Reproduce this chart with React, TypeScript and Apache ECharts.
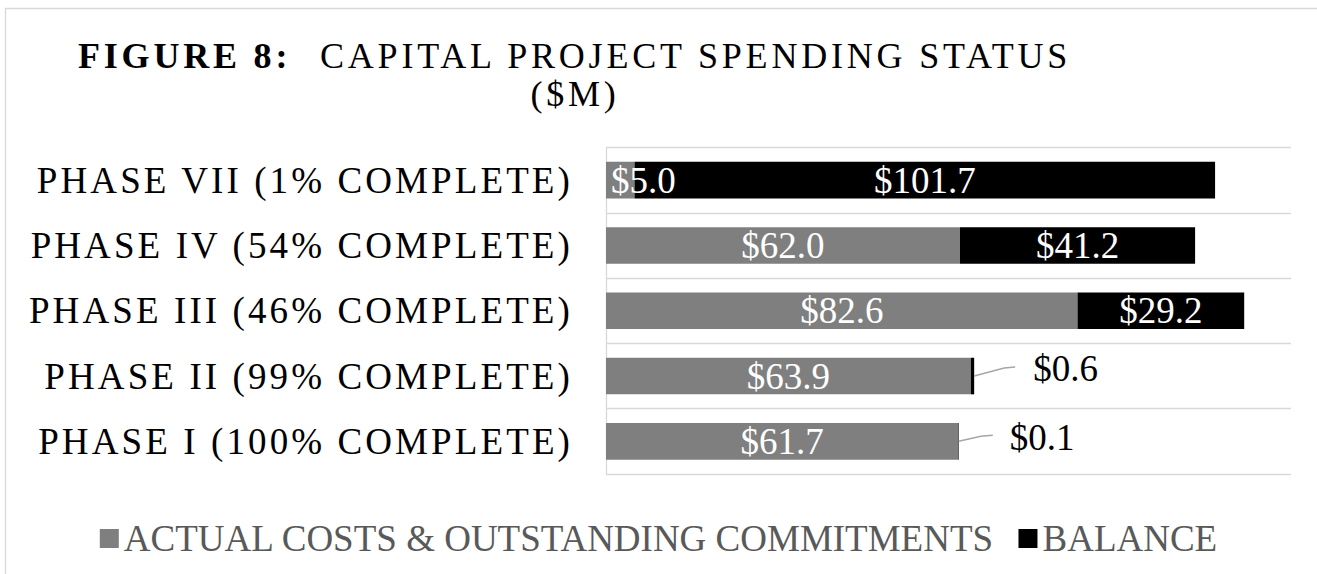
import React, { useEffect, useRef } from 'react';
import * as echarts from 'echarts';

const categories = [
  'PHASE I (100% COMPLETE)',
  'PHASE II (99% COMPLETE)',
  'PHASE III (46% COMPLETE)',
  'PHASE IV (54% COMPLETE)',
  'PHASE VII (1% COMPLETE)',
];
const actualCosts = [61.7, 63.9, 82.6, 62.0, 5.0];
const balance = [0.1, 0.6, 29.2, 41.2, 101.7];
const seriesNames = ['ACTUAL COSTS & OUTSTANDING COMMITMENTS', 'BALANCE'];
const titleBold = 'FIGURE 8:';
const titleMain = 'CAPITAL PROJECT SPENDING STATUS';
const titleUnit = '($M)';
const xMin = 0;
const xMax = 120;

const FONT = "'Liberation Serif', 'Times New Roman', serif";
const GRID_COLOR = '#d9d9d9';
const LEADER_COLOR = '#a6a6a6';

const fmt = (p: any) => '$' + Number(p.value).toFixed(1);

export default function App() {
  const ref = useRef<HTMLDivElement>(null);

  useEffect(() => {
    if (!ref.current) return;
    const chart = echarts.init(ref.current, undefined, { renderer: 'svg' });
    const spacing = new Map<string, string>();
    categories.forEach((c) => spacing.set(c, '3.1'));
    [titleBold, titleMain, titleUnit].forEach((c) => spacing.set(c, '3.8'));
    const applySpacing = () => {
      const root = ref.current;
      if (!root) return;
      root.querySelectorAll('text').forEach((t) => {
        const ls = spacing.get((t.textContent || '').trim());
        if (ls) t.setAttribute('letter-spacing', ls);
      });
    };

    // label offsets (px) for the tiny balance segments, and leader-line shapes
    const labelOffsets: Record<number, [number, number]> = { 0: [46, -4], 1: [54, -8] };
    const leaderShapes: Record<number, [number, number, number]> = {
      0: [22, -5, 12],
      1: [30, -8, 11],
    };

    const leaderData = balance
      .map((b, i) => (b < 1 ? [actualCosts[i] + b, i] : null))
      .filter((d) => d !== null);

    const option: any = {
      animation: false,
      backgroundColor: '#ffffff',
      textStyle: { fontFamily: FONT },
      graphic: [
        {
          type: 'rect',
          silent: true,
          z: -10,
          shape: { x: 5.5, y: 8.5, width: 1400, height: 700 },
          style: { fill: 'none', stroke: GRID_COLOR, lineWidth: 1.3 },
        },
      ],
      title: [
        {
          text: titleBold,
          left: 78,
          top: 38,
          padding: 0,
          textStyle: { fontFamily: FONT, fontSize: 36, fontWeight: 'bold', color: '#000' },
        },
        {
          text: titleMain,
          left: 320,
          top: 38,
          padding: 0,
          textStyle: { fontFamily: FONT, fontSize: 36, fontWeight: 'normal', color: '#000' },
        },
        {
          text: titleUnit,
          left: 575,
          textAlign: 'center',
          top: 76,
          padding: 0,
          textStyle: { fontFamily: FONT, fontSize: 36, fontWeight: 'normal', color: '#000' },
        },
      ],
      legend: {
        left: 'center',
        top: 515,
        icon: 'rect',
        itemWidth: 19,
        itemHeight: 19,
        itemGap: 24,
        selectedMode: false,
        data: seriesNames,
        textStyle: { fontFamily: FONT, fontSize: 37, color: '#595959' },
      },
      grid: { left: 606, right: 26, top: 147.5, bottom: 100 },
      xAxis: {
        type: 'value',
        min: xMin,
        max: xMax,
        show: false,
        splitLine: { show: false },
      },
      yAxis: {
        type: 'category',
        data: categories,
        axisTick: { show: false },
        axisLine: { show: true, lineStyle: { color: GRID_COLOR, width: 1.3 } },
        splitLine: { show: true, lineStyle: { color: GRID_COLOR, width: 1.3 } },
        axisLabel: { fontFamily: FONT, fontSize: 37, color: '#000', margin: 33 },
      },
      series: [
        {
          name: seriesNames[0],
          type: 'bar',
          stack: 'total',
          barCategoryGap: '44%',
          itemStyle: { color: '#7f7f7f' },
          label: {
            show: true,
            position: 'inside',
            color: '#ffffff',
            fontSize: 37,
            fontFamily: FONT,
            formatter: fmt,
          },
          data: actualCosts.map((v) =>
            v < 10 ? { value: v, label: { position: 'insideLeft', distance: 5 } } : v
          ),
        },
        {
          name: seriesNames[1],
          type: 'bar',
          stack: 'total',
          barCategoryGap: '44%',
          itemStyle: { color: '#000000' },
          label: {
            show: true,
            position: 'inside',
            color: '#ffffff',
            fontSize: 37,
            fontFamily: FONT,
            formatter: fmt,
          },
          labelLayout: (p: any) => {
            const off = labelOffsets[p.dataIndex];
            if (balance[p.dataIndex] >= 1 || !off) return {};
            return { dx: off[0], dy: off[1] };
          },
          data: balance.map((v) =>
            v < 1
              ? { value: v, label: { position: 'right', distance: 5, color: '#000000' } }
              : v
          ),
        },
        {
          name: 'leaders',
          type: 'custom',
          silent: true,
          encode: { x: 0, y: 1 },
          data: leaderData,
          z: 5,
          renderItem: (params: any, api: any) => {
            const total = api.value(0);
            const idx = api.value(1);
            const start = api.coord([total, idx]);
            const s = leaderShapes[idx] || [25, -6, 11];
            const mid = [start[0] + s[0], start[1] + s[1]];
            const end = [mid[0] + s[2], mid[1] - 1];
            return {
              type: 'polyline',
              shape: { points: [start, mid, end] },
              style: { stroke: LEADER_COLOR, lineWidth: 1.5, fill: 'none' },
              silent: true,
            };
          },
        },
      ],
    };

    chart.on('finished', applySpacing);
    chart.setOption(option);
    applySpacing();
    const t = setTimeout(applySpacing, 50);

    return () => {
      clearTimeout(t);
      chart.dispose();
    };
  }, []);

  return (
    <div
      ref={ref}
      style={{ position: 'absolute', left: 0, top: 0, width: 1317, height: 574 }}
    />
  );
}
